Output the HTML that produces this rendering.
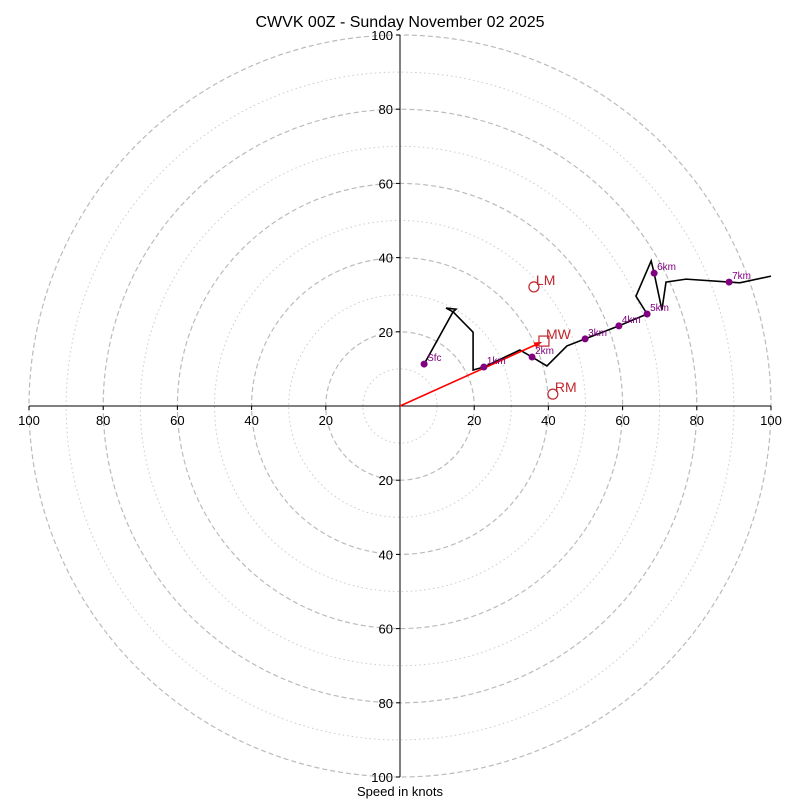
<!DOCTYPE html>
<html><head><meta charset="utf-8"><style>
body{margin:0;background:#fff;}
svg{display:block;font-family:"Liberation Sans","DejaVu Sans",sans-serif;}
</style></head><body>
<svg id="chart" width="800" height="800">
<text x="400" y="27" text-anchor="middle" font-size="16">CWVK 00Z - Sunday November 02 2025</text>
<text x="400" y="796" text-anchor="middle" font-size="13">Speed in knots</text>
<g id="grid"></g><g id="axes"></g><g id="plot"></g>
</svg>
<script>
const ringSpeeds=[10,20,30,40,50,60,70,80,90,100];
const tickValues=[20,40,60,80,100];
const hodoU=[6.5,14.3,12.4,15.1,14.3,19.7,19.7,22.6,32.3,35.6,39.6,45.0,49.9,59.0,66.6,63.6,67.7,68.5,70.6,71.7,77.1,88.7,91.6,100];
const hodoV=[11.3,25.4,26.4,26.1,25.4,19.9,9.7,10.5,15.1,13.2,10.8,16.2,18.1,21.6,24.8,29.6,39.1,35.8,25.9,33.4,34.2,33.4,33.2,35.0];
const levelLabels=["Sfc","1km","2km","3km","4km","5km","6km","7km"];
const levelU=[6.5,22.6,35.6,49.9,59.0,66.6,68.5,88.7];
const levelV=[11.3,10.5,13.2,18.1,21.6,24.8,35.8,33.4];
const motionLabels=["LM","MW","RM"];
const motionU=[36.1,38.8,41.2];
const motionV=[32.1,17.5,3.2];
const cx=400,cy=406,sc=3.71;
const X=u=>cx+u*sc, Y=v=>cy-v*sc;
const NS="http://www.w3.org/2000/svg";
function mk(tag,attrs,parent){const e=document.createElementNS(NS,tag);for(const k in attrs)e.setAttribute(k,attrs[k]);parent.appendChild(e);return e;}
const grid=document.getElementById('grid'),axes=document.getElementById('axes'),plot=document.getElementById('plot');
ringSpeeds.forEach(s=>{const major=s%20===0;
 const c=mk('circle',{cx:cx,cy:cy,r:s*sc,fill:'none',stroke:major?'#bbb':'#ccc','stroke-width':major?1.2:1,'stroke-dasharray':major?'5,3':'1.5,3'},grid);
 
 
});
mk('line',{x1:X(-100),y1:cy,x2:X(100),y2:cy,stroke:'#000','stroke-width':1},axes);
mk('line',{x1:cx,y1:Y(100),x2:cx,y2:Y(-100),stroke:'#000','stroke-width':1},axes);
tickValues.forEach(t=>{
 [t,-t].forEach(s=>{
  mk('line',{x1:X(s),y1:cy,x2:X(s),y2:cy+4,stroke:'#000'},axes);
  const tx=mk('text',{x:X(s),y:cy+19,'text-anchor':'middle','font-size':13},axes);tx.textContent=t;
  
  
  mk('line',{x1:cx-4,y1:Y(s),x2:cx,y2:Y(s),stroke:'#000'},axes);
  const ty=mk('text',{x:cx-7,y:Y(s)+5,'text-anchor':'end','font-size':13},axes);ty.textContent=t;
  
  
 });
});
const pl=mk('polyline',{points:hodoU.map((u,i)=>X(u)+','+Y(hodoV[i])).join(' '),fill:'none',stroke:'#000','stroke-width':1.6},plot);


const mx=X(motionU[1]),my=Y(motionV[1]);const ang=Math.atan2(my-cy,mx-cx);const L=Math.hypot(mx-cx,my-cy)-8;
const ex=cx+L*Math.cos(ang),ey=cy+L*Math.sin(ang);
const ar=mk('line',{x1:cx,y1:cy,x2:ex,y2:ey,stroke:'red','stroke-width':1.6},plot);


const hx=ex+6*Math.cos(ang),hy=ey+6*Math.sin(ang);
mk('polygon',{points:`${hx},${hy} ${ex-2*Math.cos(ang)+3*Math.sin(ang)},${ey-2*Math.sin(ang)-3*Math.cos(ang)} ${ex-2*Math.cos(ang)-3*Math.sin(ang)},${ey-2*Math.sin(ang)+3*Math.cos(ang)}`,fill:'red'},plot);
levelLabels.forEach((lb,i)=>{
 const d=mk('circle',{cx:X(levelU[i]),cy:Y(levelV[i]),r:3.5,fill:'purple'},plot);
 
 
 const t=mk('text',{x:X(levelU[i])+3,y:Y(levelV[i])-3,'font-size':10,fill:'purple'},plot);t.textContent=lb;
 
 
});
motionLabels.forEach((lb,i)=>{
 const x=X(motionU[i]),y=Y(motionV[i]);let m;
 if(lb==='MW'){m=mk('rect',{x:x-5,y:y-5,width:10,height:10,fill:'none',stroke:'#c0272d','stroke-width':1.2},plot);}
 else{m=mk('circle',{cx:x,cy:y,r:5,fill:'none',stroke:'#c0272d','stroke-width':1.2},plot);}
 
 
 const t=mk('text',{x:x+2,y:y-2,'font-size':14,fill:'#c0272d'},plot);t.textContent=lb;
 
 
});
</script>
</body></html>
